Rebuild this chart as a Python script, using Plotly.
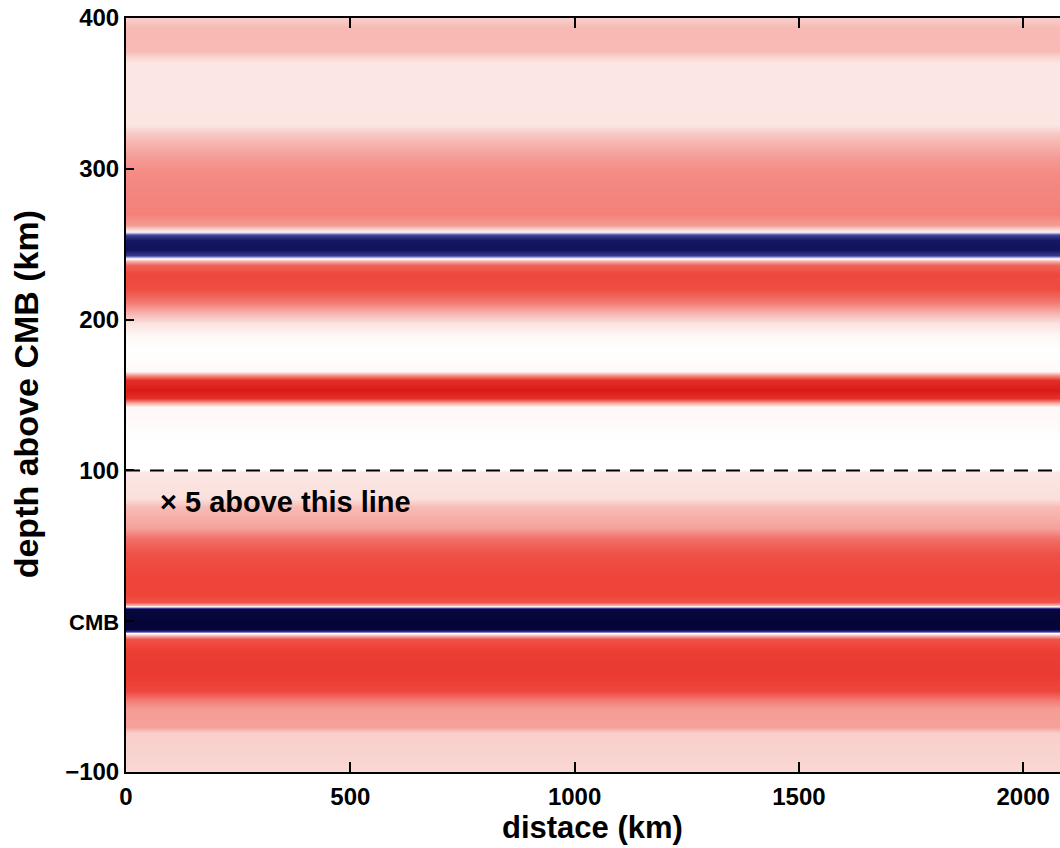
import plotly.graph_objects as go

# distance columns (km)
distance_km = [0, 2100]

# depth above CMB (km) and normalised amplitude (-1 blue ... 0 white ... +1 red)
depth_km = [402, 399, 394, 388, 378, 374, 370, 330, 324, 318, 308, 298, 285, 270, 263, 259,
            256, 253, 247, 243, 241, 239, 236, 230, 220, 212, 205, 198, 190, 180, 166,
            163, 160, 153, 148, 145, 142, 130, 120, 101, 99, 82, 76, 62, 55, 45, 30, 18, 13,
            11, 9.5, 8, 0, -5, -6.5, -8, -9.5, -12, -20, -35, -46, -52, -58, -70, -74, -90, -102]
amplitude = [0.22, 0.24, 0.30, 0.31, 0.30, 0.20, 0.12, 0.12, 0.24, 0.32, 0.42, 0.48, 0.50, 0.52, 0.42, 0.10,
             -0.55, -0.82, -0.86, -0.60, -0.05, 0.35, 0.64, 0.74, 0.72, 0.55, 0.35, 0.14, 0.04, 0.0, 0.03,
             0.45, 0.85, 0.95, 0.85, 0.35, 0.04, 0.02, 0.0, 0.0, 0.12, 0.15, 0.30, 0.40, 0.58, 0.70, 0.75, 0.75, 0.70,
             0.35, -0.2, -0.97, -1.0, -1.0, -0.65, 0.0, 0.40, 0.70, 0.78, 0.80, 0.74, 0.54, 0.42, 0.40, 0.22, 0.20, 0.18]

y_tickvals = [-100, 0, 100, 200, 300, 400]
y_ticktext = ["\u2212100", "<span style='font-size:22px'>CMB</span>", "100", "200", "300", "400"]
x_tickvals = [0, 500, 1000, 1500, 2000]
x_ticktext = ["0", "500", "1000", "1500", "2000"]

z = [[a for _ in distance_km] for a in amplitude]

colorscale = [
    [0.0, "rgb(5,5,55)"],
    [0.08, "rgb(20,20,95)"],
    [0.25, "rgb(70,70,160)"],
    [0.42, "rgb(190,190,235)"],
    [0.5, "rgb(255,255,255)"],
    [0.58, "rgb(250,222,218)"],
    [0.68, "rgb(246,172,166)"],
    [0.78, "rgb(242,118,110)"],
    [0.88, "rgb(238,66,56)"],
    [1.0, "rgb(212,16,16)"],
]

font = dict(family="Liberation Sans, Arial, sans-serif", color="black", weight="bold")

fig = go.Figure(go.Heatmap(
    x=distance_km, y=depth_km, z=z, zmin=-1, zmax=1,
    colorscale=colorscale, zsmooth="best", showscale=False, hoverinfo="skip"))

fig.update_layout(
    width=1060, height=848,
    margin=dict(l=126, r=0, t=18, b=76),
    paper_bgcolor="white", plot_bgcolor="white",
    font=font,
    xaxis=dict(range=[0, 2082], tickvals=x_tickvals, ticktext=x_ticktext,
               ticks="inside", ticklen=10, tickwidth=2, tickcolor="black",
               showline=True, linecolor="black", linewidth=2, mirror="ticks",
               showgrid=False, zeroline=False, tickfont=dict(size=24, **font),
               ticklabelstandoff=2),
    yaxis=dict(range=[-100, 400], tickvals=y_tickvals, ticktext=y_ticktext,
               ticks="inside", ticklen=8, tickwidth=2, tickcolor="black",
               showline=True, linecolor="black", linewidth=2, mirror=False,
               showgrid=False, zeroline=False, tickfont=dict(size=24, **font)),
    shapes=[
        dict(type="line", xref="x", yref="y", x0=0, x1=2082, y0=100, y1=100,
             line=dict(color="black", width=2, dash="14px,10px")),
    ],
    annotations=[
        dict(text="\u00d7 5 above this line", xref="x", yref="y", x=72, y=79,
             xanchor="left", yanchor="middle", showarrow=False,
             font=dict(size=29, **font)),
        dict(text="distace (km)", xref="paper", yref="paper", x=0.499, y=-0.073,
             xanchor="center", yanchor="middle", showarrow=False,
             font=dict(size=31, **font)),
        dict(text="depth above CMB (km)", xref="paper", yref="paper", x=-0.107, y=0.501,
             xanchor="center", yanchor="middle", showarrow=False, textangle=-90,
             font=dict(size=34, **font)),
    ],
)

fig.write_html("out.html")
